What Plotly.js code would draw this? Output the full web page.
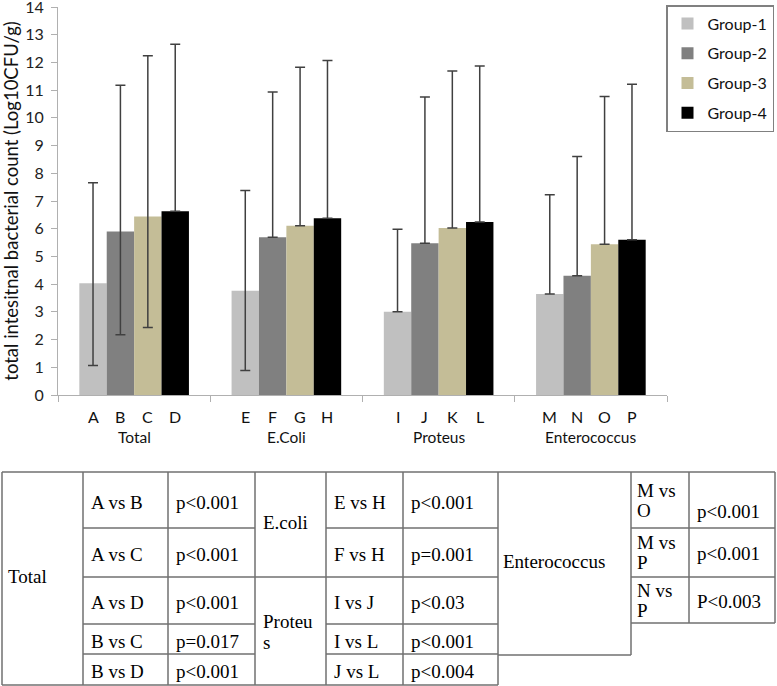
<!DOCTYPE html>
<html>
<head>
<meta charset="utf-8">
<script src="https://cdn.plot.ly/plotly-3.0.1.min.js"></script>
<style>html,body{margin:0;padding:0;background:#fff;}#chart{width:777px;height:686px;}</style>
</head>
<body>
<div id="chart"></div>
<script>
// ---------- data ----------
const categories = ["Total", "E.Coli", "Proteus", "Enterococcus"];
const groupNames = ["Group-1", "Group-2", "Group-3", "Group-4"];
const barLetters1 = ["A", "E", "I", "M"];
const barLetters2 = ["B", "F", "J", "N"];
const barLetters3 = ["C", "G", "K", "O"];
const barLetters4 = ["D", "H", "L", "P"];

const group1 = [4.03, 3.76, 3.00, 3.64];
const group1ErrPlus = [3.63, 3.62, 2.98, 3.59];
const group1ErrMinus = [2.97, 2.88, 0, 0];

const group2 = [5.90, 5.69, 5.48, 4.30];
const group2ErrPlus = [5.28, 5.24, 5.27, 4.31];
const group2ErrMinus = [3.73, 0, 0, 0];

const group3 = [6.44, 6.11, 6.03, 5.44];
const group3ErrPlus = [5.80, 5.72, 5.66, 5.33];
const group3ErrMinus = [4.00, 0, 0, 0];

const group4 = [6.63, 6.38, 6.24, 5.60];
const group4ErrPlus = [6.03, 5.69, 5.63, 5.61];
const group4ErrMinus = [0, 0, 0, 0];

const yTitle = "total intesitnal bacterial count (Log10CFU/g)";

// table contents
const totalLabel = "Total";
const totalPairs = ["A vs B", "A vs C", "A vs D", "B vs C", "B vs D"];
const totalP = ["p<0.001", "p<0.001", "p<0.001", "p=0.017", "p<0.001"];
const ecoliLabel = "E.coli";
const proteusLabelLines = ["Proteu", "s"];
const midPairs = ["E vs H", "F vs H", "I vs J", "I vs L", "J vs L"];
const midP = ["p<0.001", "p=0.001", "p<0.03", "p<0.001", "p<0.004"];
const enteroLabel = "Enterococcus";
const enteroPairLines = [["M vs", "O"], ["M vs", "P"], ["N vs", "P"]];
const enteroP = ["p<0.001", "p<0.001", "P<0.003"];

// ---------- layout constants ----------
const W = 777, H = 686;
const px = v => v / W;
const py = v => 1 - v / H;
const plotL = 58, plotR = 667, plotT = 7, plotB = 395;
const bargap = 0.28;
const barW = (plotR - plotL) / categories.length * (1 - bargap) / 4;
const colors = ["#c0c0c0", "#808080", "#c4bd97", "#000000"];
const errColor = "#404040";
const axisColor = "#b0b0b0";

const values = [group1, group2, group3, group4];
const plus = [group1ErrPlus, group2ErrPlus, group3ErrPlus, group4ErrPlus];
const minus = [group1ErrMinus, group2ErrMinus, group3ErrMinus, group4ErrMinus];
const letters = [barLetters1, barLetters2, barLetters3, barLetters4];

const traces = values.map((v, g) => ({
  type: "bar",
  x: categories,
  y: v,
  name: groupNames[g],
  legendgroup: "g" + g,
  marker: {color: colors[g], line: {width: 0}},
  error_y: {type: "data", symmetric: false, array: plus[g], arrayminus: minus[g],
            color: errColor, thickness: 1.5, width: 5}
}));

const annotations = [];
letters.forEach((arr, g) => {
  arr.forEach((t, i) => {
    annotations.push({xref: "x", yref: "paper", x: categories[i], y: py(416),
      xshift: (g - 1.5) * barW, text: t, showarrow: false, borderpad: 0,
      font: {family: "Lato", size: 16, color: "#111"}});
  });
});
categories.forEach(c => {
  annotations.push({xref: "x", yref: "paper", x: c, y: py(437), text: c, showarrow: false,
    borderpad: 0, font: {family: "Lato", size: 15.5, color: "#111"}});
});

// ---------- table geometry ----------
const tFont = {family: "Liberation Serif", size: 19, color: "#000"};
const colX = [2, 83, 168, 255, 326, 403, 498, 631, 689, 775];
const rowY = [472, 528, 577, 624, 654, 685];
const entRowY = [472, 528, 577, 623];
const entBottom = 655;
const lineStyle = {color: "#707070", width: 1.5};
const shapes = [];
function seg(x0, y0, x1, y1) {
  shapes.push({type: "line", xref: "paper", yref: "paper",
    x0: px(x0), y0: py(y0), x1: px(x1), y1: py(y1), line: lineStyle});
}
// horizontal lines
seg(colX[0], rowY[0], colX[9], rowY[0]);
[1, 2, 3, 4].forEach(r => {
  seg(colX[1], rowY[r], colX[3], rowY[r]);
  seg(colX[4], rowY[r], colX[6], rowY[r]);
});
seg(colX[3], rowY[2], colX[4], rowY[2]);
seg(colX[0], rowY[5], colX[6], rowY[5]);
seg(colX[6], entBottom, colX[7], entBottom);
[1, 2, 3].forEach(r => seg(colX[7], entRowY[r], colX[9], entRowY[r]));
// vertical lines
[0, 1, 2, 3, 4, 5, 6].forEach(c => seg(colX[c], rowY[0], colX[c], rowY[5]));
seg(colX[7], rowY[0], colX[7], entBottom);
seg(colX[8], entRowY[0], colX[8], entRowY[3]);
seg(colX[9], entRowY[0], colX[9], entRowY[3]);

function txt(x, y, t) {
  annotations.push({xref: "paper", yref: "paper", x: px(x), y: py(y), xanchor: "left",
    yanchor: "middle", text: t, showarrow: false, font: tFont, borderpad: 0});
}
const pad = 7;
txt(colX[0] + 5, (rowY[0] + rowY[5]) / 2 - 2, totalLabel);
totalPairs.forEach((t, r) => {
  const cy = (rowY[r] + rowY[r + 1]) / 2 + 2;
  txt(colX[1] + pad, cy, t);
  txt(colX[2] + pad, cy, totalP[r]);
  txt(colX[4] + pad, cy, midPairs[r]);
  txt(colX[5] + pad, cy, midP[r]);
});
txt(colX[3] + pad, (rowY[0] + rowY[2]) / 2 - 2, ecoliLabel);
txt(colX[3] + pad, (rowY[2] + rowY[5]) / 2 - 10, proteusLabelLines[0]);
txt(colX[3] + pad, (rowY[2] + rowY[5]) / 2 + 11, proteusLabelLines[1]);
txt(colX[6] + 4, (rowY[0] + entBottom) / 2 - 2, enteroLabel);
enteroPairLines.forEach((lines, r) => {
  const top = entRowY[r], bot = entRowY[r + 1];
  const cy = (top + bot) / 2;
  txt(colX[7] + 5, cy - 10, lines[0]);
  txt(colX[7] + 5, cy + 10, lines[1]);
  txt(colX[8] + pad, r === 0 ? cy + 11 : cy + 1, enteroP[r]);
});

const layout = {
  width: W, height: H,
  margin: {l: 0, r: 0, t: 0, b: 0},
  paper_bgcolor: "#fff", plot_bgcolor: "#fff",
  barmode: "group", bargap: bargap, bargroupgap: 0,
  font: {family: "Lato", color: "#111"},
  xaxis: {domain: [px(plotL), px(plotR)], type: "category", showline: true,
    linecolor: axisColor, linewidth: 1, ticks: "outside", tickson: "boundaries",
    ticklen: 6, tickcolor: axisColor, showticklabels: false, showgrid: false,
    zeroline: false, fixedrange: true},
  yaxis: {domain: [py(plotB), py(plotT)], range: [0, 14], dtick: 1, tick0: 0,
    showline: true, linecolor: axisColor, linewidth: 1, ticks: "outside", ticklen: 6,
    tickcolor: axisColor, showgrid: false, zeroline: false, ticklabelstandoff: 4,
    ticklabeloverflow: "allow",
    tickfont: {family: "Lato", size: 16, color: "#222"},
    title: {text: yTitle, font: {family: "Lato", size: 18.5, color: "#111"}, standoff: 6}},
  legend: {x: px(774), y: py(5), xanchor: "right", yanchor: "top",
    bordercolor: "#808080", borderwidth: 1.5, bgcolor: "#fff",
    font: {family: "Lato", size: 16, color: "#111"}, tracegroupgap: 6,
    itemwidth: 30, traceorder: "grouped"},
  shapes: shapes,
  annotations: annotations
};

Plotly.newPlot("chart", traces, layout, {displayModeBar: false, staticPlot: true});
</script>
</body>
</html>
